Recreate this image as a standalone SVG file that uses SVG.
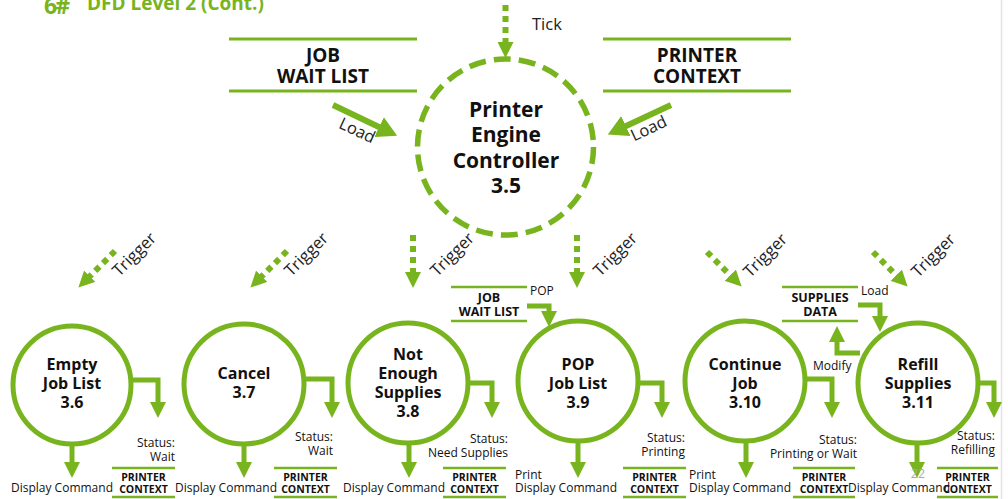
<svg xmlns="http://www.w3.org/2000/svg" width="1008" height="499" viewBox="0 0 1008 499">
<style>
.g{stroke:#78B41E;fill:none}
.circ{stroke:#78B41E;fill:#fff;stroke-width:5}
.dash{stroke:#78B41E;fill:#fff;stroke-width:5.5;stroke-dasharray:17 8.14}
.arr{stroke:#78B41E;fill:none;stroke-width:5;stroke-linejoin:miter;marker-end:url(#ah)}
.dot{stroke:#78B41E;fill:none;stroke-width:6;stroke-dasharray:6 5;marker-end:url(#ah)}
.big{stroke:#78B41E;fill:none;stroke-width:6;marker-end:url(#ahb)}
.sl{stroke:#78B41E;stroke-width:3;fill:none}
.ss{stroke:#78B41E;stroke-width:2.5;fill:none}
text{font-family:"Open Sans","Noto Sans","DejaVu Sans",sans-serif;fill:#111}
.nb{font-weight:bold;font-size:16px;text-anchor:middle}
.cb{font-weight:bold;font-size:21px;text-anchor:middle}
.stb{font-weight:bold;font-size:19px;text-anchor:middle}
.sm{font-weight:bold;font-size:12.5px;text-anchor:middle}
.pc{font-weight:bold;font-size:10.5px;text-anchor:middle}
.lb{font-size:12px}
.st{font-size:12px;text-anchor:end}
.fl{font-size:16.5px;fill:#222}
</style>
<defs>
<marker id="ah" viewBox="0 0 16 16" refX="1" refY="8" markerUnits="userSpaceOnUse" markerWidth="16" markerHeight="16" orient="auto"><path d="M0,0 L16,8 L0,16 z" fill="#78B41E"/></marker>
<marker id="ahb" viewBox="0 0 20 22" refX="1" refY="11" markerUnits="userSpaceOnUse" markerWidth="20" markerHeight="22" orient="auto"><path d="M0,0 L20,11 L0,22 z" fill="#78B41E"/></marker>
</defs>
<line x1="1001.5" y1="0" x2="1001.5" y2="499" stroke="#e2e2e2" stroke-width="1.5"/>
<g id="title">
<text x="44" y="14" style="font-size:23px;font-weight:bold;fill:#78B41E;letter-spacing:-2px">6#</text>
<text x="87" y="10" style="font-size:19px;font-weight:bold;fill:#78B41E">DFD Level 2 (Cont.)</text>
</g>
<g id="connectors">
<path class="dot" d="M505.5,5 V43"/>
<path class="big" d="M333,105 L380,127.5"/>
<path class="big" d="M671,105 L625,126.5"/>
<path class="dot" d="M115,251 L89,277"/>
<path class="dot" d="M287,251 L261,277"/>
<path class="dot" d="M413,235 V273"/>
<path class="dot" d="M577,235 V273"/>
<path class="dot" d="M707,252 L731,276"/>
<path class="dot" d="M873,252 L897,276"/>
<path class="arr" d="M129,380 H158 V403"/>
<path class="arr" d="M72,442 V463"/>
<path class="arr" d="M302,379 H332 V403"/>
<path class="arr" d="M244,442 V463"/>
<path class="arr" d="M466,383 H492 V403"/>
<path class="arr" d="M409,441 V463"/>
<path class="arr" d="M636,383 H662 V403"/>
<path class="arr" d="M578,439 V463"/>
<path class="arr" d="M803,379 H832 V403"/>
<path class="arr" d="M746,439 V463"/>
<path class="arr" d="M976,383 H994 V403"/>
<path class="arr" d="M917,441 V463"/>
<path class="arr" d="M527,306 H549 V312"/>
<path class="arr" d="M858,305 H880 V317"/>
<path class="arr" d="M860,353 H837 V341"/>
<text class="fl" x="532" y="30">Tick</text>
<text class="fl" transform="translate(357,131) rotate(25)" x="0" y="5" text-anchor="middle">Load</text>
<text class="fl" transform="translate(649,129) rotate(-25)" x="0" y="5" text-anchor="middle">Load</text>
<text class="fl" transform="translate(134,254) rotate(-45)" x="0" y="6" text-anchor="middle">Trigger</text>
<text class="fl" transform="translate(306,254) rotate(-45)" x="0" y="6" text-anchor="middle">Trigger</text>
<text class="fl" transform="translate(452,254) rotate(-45)" x="0" y="6" text-anchor="middle">Trigger</text>
<text class="fl" transform="translate(615,254) rotate(-45)" x="0" y="6" text-anchor="middle">Trigger</text>
<text class="fl" transform="translate(765,255) rotate(-45)" x="0" y="6" text-anchor="middle">Trigger</text>
<text class="fl" transform="translate(933,255) rotate(-45)" x="0" y="6" text-anchor="middle">Trigger</text>
<text class="lb" x="530" y="295">POP</text>
<text class="lb" x="861" y="295">Load</text>
<text class="lb" x="813" y="370">Modify</text>
<text class="lb" x="11" y="492">Display Command</text>
<text class="lb" x="175" y="492">Display Command</text>
<text class="lb" x="343" y="492">Display Command</text>
<text class="lb" x="515" y="479">Print</text>
<text class="lb" x="515" y="492">Display Command</text>
<text class="lb" x="689" y="479">Print</text>
<text class="lb" x="689" y="492">Display Command</text>
<text class="lb" x="848" y="492">Display Command</text>
<text class="st" x="175" y="447">Status:</text><text class="st" x="175" y="461">Wait</text>
<text class="st" x="333" y="441">Status:</text><text class="st" x="333" y="455">Wait</text>
<text class="st" x="508" y="443">Status:</text><text class="st" x="508" y="457">Need Supplies</text>
<text class="st" x="685" y="442">Status:</text><text class="st" x="685" y="456">Printing</text>
<text class="st" x="857" y="444">Status:</text><text class="st" x="857" y="458">Printing or Wait</text>
<text class="st" x="995" y="440">Status:</text><text class="st" x="995" y="454">Refilling</text>
</g>
<g id="store-jobwait">
<line class="sl" x1="229" y1="39" x2="417" y2="39"/><line class="sl" x1="229" y1="91" x2="417" y2="91"/>
<text class="stb" x="323" y="62">JOB</text><text class="stb" x="323" y="83">WAIT LIST</text>
</g>
<g id="store-printerctx">
<line class="sl" x1="603" y1="39" x2="791" y2="39"/><line class="sl" x1="603" y1="91" x2="791" y2="91"/>
<text class="stb" x="697" y="62">PRINTER</text><text class="stb" x="697" y="83">CONTEXT</text>
</g>
<g id="node-3-5">
<circle class="dash" cx="505.5" cy="147" r="88"/>
<text class="cb" x="506" y="117">Printer</text>
<text class="cb" x="506" y="142">Engine</text>
<text class="cb" x="506" y="168">Controller</text>
<text class="cb" x="506" y="193">3.5</text>
</g>
<g id="node-3-6">
<circle class="circ" cx="72" cy="385" r="59"/>
<text class="nb" x="72" y="370">Empty</text><text class="nb" x="72" y="389">Job List</text><text class="nb" x="72" y="408">3.6</text>
</g>
<g id="node-3-7">
<circle class="circ" cx="244" cy="384" r="60"/>
<text class="nb" x="244" y="379">Cancel</text><text class="nb" x="244" y="398">3.7</text>
</g>
<g id="node-3-8">
<circle class="circ" cx="408" cy="383" r="60"/>
<text class="nb" x="408" y="360">Not</text><text class="nb" x="408" y="379">Enough</text><text class="nb" x="408" y="398">Supplies</text><text class="nb" x="408" y="417">3.8</text>
</g>
<g id="node-3-9">
<circle class="circ" cx="578" cy="381" r="60"/>
<text class="nb" x="578" y="370">POP</text><text class="nb" x="578" y="389">Job List</text><text class="nb" x="578" y="408">3.9</text>
</g>
<g id="node-3-10">
<circle class="circ" cx="745" cy="381" r="60"/>
<text class="nb" x="745" y="370">Continue</text><text class="nb" x="745" y="389">Job</text><text class="nb" x="745" y="408">3.10</text>
</g>
<g id="node-3-11">
<circle class="circ" cx="918" cy="383" r="60"/>
<text class="nb" x="918" y="370">Refill</text><text class="nb" x="918" y="389">Supplies</text><text class="nb" x="918" y="408">3.11</text>
</g>
<g id="store-jobwait-small">
<line class="ss" x1="451" y1="287" x2="527" y2="287"/><line class="ss" x1="451" y1="321" x2="527" y2="321"/>
<text class="sm" x="489" y="302">JOB</text><text class="sm" x="489" y="316">WAIT LIST</text>
</g>
<g id="store-supplies">
<line class="ss" x1="782" y1="287" x2="858" y2="287"/><line class="ss" x1="782" y1="321" x2="858" y2="321"/>
<text class="sm" x="820" y="302">SUPPLIES</text><text class="sm" x="820" y="316">DATA</text>
</g>
<g id="store-ctx-3-6"><line class="ss" x1="112" y1="468" x2="175" y2="468"/><line class="ss" x1="112" y1="497" x2="175" y2="497"/><text class="pc" x="143.5" y="481">PRINTER</text><text class="pc" x="143.5" y="493">CONTEXT</text></g>
<g id="store-ctx-3-7"><line class="ss" x1="274" y1="468" x2="337" y2="468"/><line class="ss" x1="274" y1="497" x2="337" y2="497"/><text class="pc" x="305.5" y="481">PRINTER</text><text class="pc" x="305.5" y="493">CONTEXT</text></g>
<g id="store-ctx-3-8"><line class="ss" x1="443" y1="468" x2="506" y2="468"/><line class="ss" x1="443" y1="497" x2="506" y2="497"/><text class="pc" x="474.5" y="481">PRINTER</text><text class="pc" x="474.5" y="493">CONTEXT</text></g>
<g id="store-ctx-3-9"><line class="ss" x1="623" y1="468" x2="686" y2="468"/><line class="ss" x1="623" y1="497" x2="686" y2="497"/><text class="pc" x="654.5" y="481">PRINTER</text><text class="pc" x="654.5" y="493">CONTEXT</text></g>
<g id="store-ctx-3-10"><line class="ss" x1="793" y1="468" x2="855" y2="468"/><line class="ss" x1="793" y1="497" x2="855" y2="497"/><text class="pc" x="824" y="481">PRINTER</text><text class="pc" x="824" y="493">CONTEXT</text></g>
<g id="store-ctx-3-11"><line class="ss" x1="937" y1="468" x2="998" y2="468"/><line class="ss" x1="937" y1="497" x2="998" y2="497"/><text class="pc" x="967.5" y="481">PRINTER</text><text class="pc" x="967.5" y="493">CONTEXT</text></g>
<text x="918" y="478" text-anchor="middle" style="font-size:12.5px;fill:#aaa">22</text>
</svg>
